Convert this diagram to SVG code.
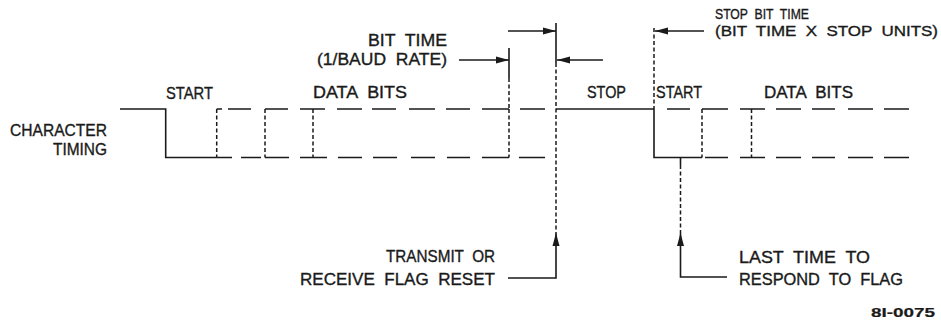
<svg xmlns="http://www.w3.org/2000/svg" width="941" height="320" viewBox="0 0 941 320">
<defs>
<style>
.t{font-family:"Liberation Sans",Arial,sans-serif;font-size:16.5px;fill:#1a1a1a;stroke:#1a1a1a;stroke-width:0.35}
.sm{font-size:14.5px}
.b{font-weight:bold;font-size:13px;stroke-width:0.2}
.s{stroke:#1a1a1a;stroke-width:1.6;fill:none}
.d{stroke:#1a1a1a;stroke-width:1.5;fill:none;stroke-dasharray:4 2.5}
.h{stroke:#1a1a1a;stroke-width:1.6;fill:none}
</style>
<marker id="ah" markerUnits="userSpaceOnUse" markerWidth="14" markerHeight="8" viewBox="0 0 14 8" refX="13" refY="4" orient="auto">
<path d="M0,0.5 L13,4 L0,7.5 Z" fill="#1a1a1a"/>
</marker>
</defs>
<rect width="941" height="320" fill="#fff"/>

<g id="labels">
<text class="t" x="166" y="99" textLength="47" lengthAdjust="spacingAndGlyphs">START</text>
<text class="t" x="313" y="98" textLength="94" lengthAdjust="spacingAndGlyphs" xml:space="preserve">DATA  BITS</text>
<text class="t" x="587" y="98" textLength="39" lengthAdjust="spacingAndGlyphs">STOP</text>
<text class="t" x="656" y="98" textLength="46" lengthAdjust="spacingAndGlyphs">START</text>
<text class="t" x="764" y="98" textLength="89" lengthAdjust="spacingAndGlyphs" xml:space="preserve">DATA  BITS</text>
</g>

<g id="character-timing">
<text class="t" x="10" y="136" textLength="97" lengthAdjust="spacingAndGlyphs">CHARACTER</text>
<text class="t" x="53" y="155" textLength="54" lengthAdjust="spacingAndGlyphs">TIMING</text>
</g>

<g id="waveform">
<path class="s" d="M120,109 H165.7 V157.5 H216.7"/>
<path class="s" d="M556,109 H654"/>
<path class="s" d="M654,109 V157.5 H702"/>
<path class="h" d="M216.7,109 H222 M228,109 H251 M265,109 H288 M300,109 H325 M337,109 H362 M372,109 H396 M409,109 H435 M446,109 H470 M482,109 H509 M520,109 H545"/>
<path class="h" d="M667,109 H690 M702,109 H728 M740,109 H765 M776,109 H801 M812,109 H835 M848,109 H873 M884,109 H909"/>
<path class="h" d="M216.7,157.5 H232 M241,157.5 H261 M265,157.5 H289 M300,157.5 H327 M338,157.5 H362 M373,157.5 H397 M411,157.5 H435 M447,157.5 H470 M482,157.5 H509 M519,157.5 H545"/>
<path class="h" d="M705,157.5 H728 M740,157.5 H765 M776,157.5 H801 M812,157.5 H835 M848,157.5 H873 M884,157.5 H909"/>
<path class="d" d="M216.7,109 V157.5 M265,109 V157.5 M313,109 V157.5 M509,109 V157.5 M702,109 V157.5 M751.5,109 V157.5"/>
</g>

<g id="bit-time">
<text class="t" x="368" y="46" textLength="79" lengthAdjust="spacingAndGlyphs" xml:space="preserve">BIT  TIME</text>
<text class="t" x="317" y="65" textLength="130" lengthAdjust="spacingAndGlyphs" xml:space="preserve">(1/BAUD  RATE)</text>
</g>

<g id="stop-bit-time">
<text class="t sm" x="715" y="19" textLength="94" lengthAdjust="spacingAndGlyphs" xml:space="preserve">STOP  BIT  TIME</text>
<text class="t sm" x="715" y="36" textLength="223" lengthAdjust="spacingAndGlyphs" xml:space="preserve">(BIT  TIME  X  STOP  UNITS)</text>
</g>

<g id="flag-reset">
<text class="t" x="386" y="262" textLength="109" lengthAdjust="spacingAndGlyphs" xml:space="preserve">TRANSMIT  OR</text>
<text class="t" x="300" y="285" textLength="195" lengthAdjust="spacingAndGlyphs" xml:space="preserve">RECEIVE  FLAG  RESET</text>
</g>

<g id="last-time">
<text class="t" x="739" y="263" textLength="131" lengthAdjust="spacingAndGlyphs" xml:space="preserve">LAST  TIME  TO</text>
<text class="t" x="739" y="285" textLength="164" lengthAdjust="spacingAndGlyphs" xml:space="preserve">RESPOND  TO  FLAG</text>
</g>

<g id="figure-number">
<text class="t b" x="871" y="317" textLength="64" lengthAdjust="spacingAndGlyphs">8I-0075</text>
</g>

<g id="connectors">
<path class="s" d="M509,48 V78"/>
<path class="d" d="M509,78 V109"/>
<path class="s" d="M556,23 V63"/>
<path class="d" d="M556,63 V233"/>
<path class="d" d="M654,28 V109"/>
<path class="s" d="M680.5,157.5 V165"/>
<path class="d" d="M680.5,165 V233"/>
<path class="s" d="M459,60 H509" marker-end="url(#ah)"/>
<path class="s" d="M508,31 H556" marker-end="url(#ah)"/>
<path class="s" d="M603,60 H557" marker-end="url(#ah)"/>
<path class="s" d="M704,31 H655" marker-end="url(#ah)"/>
<path class="s" d="M508,278 H556 V233" marker-end="url(#ah)"/>
<path class="s" d="M727,277 H680.5 V233" marker-end="url(#ah)"/>
</g>
</svg>
